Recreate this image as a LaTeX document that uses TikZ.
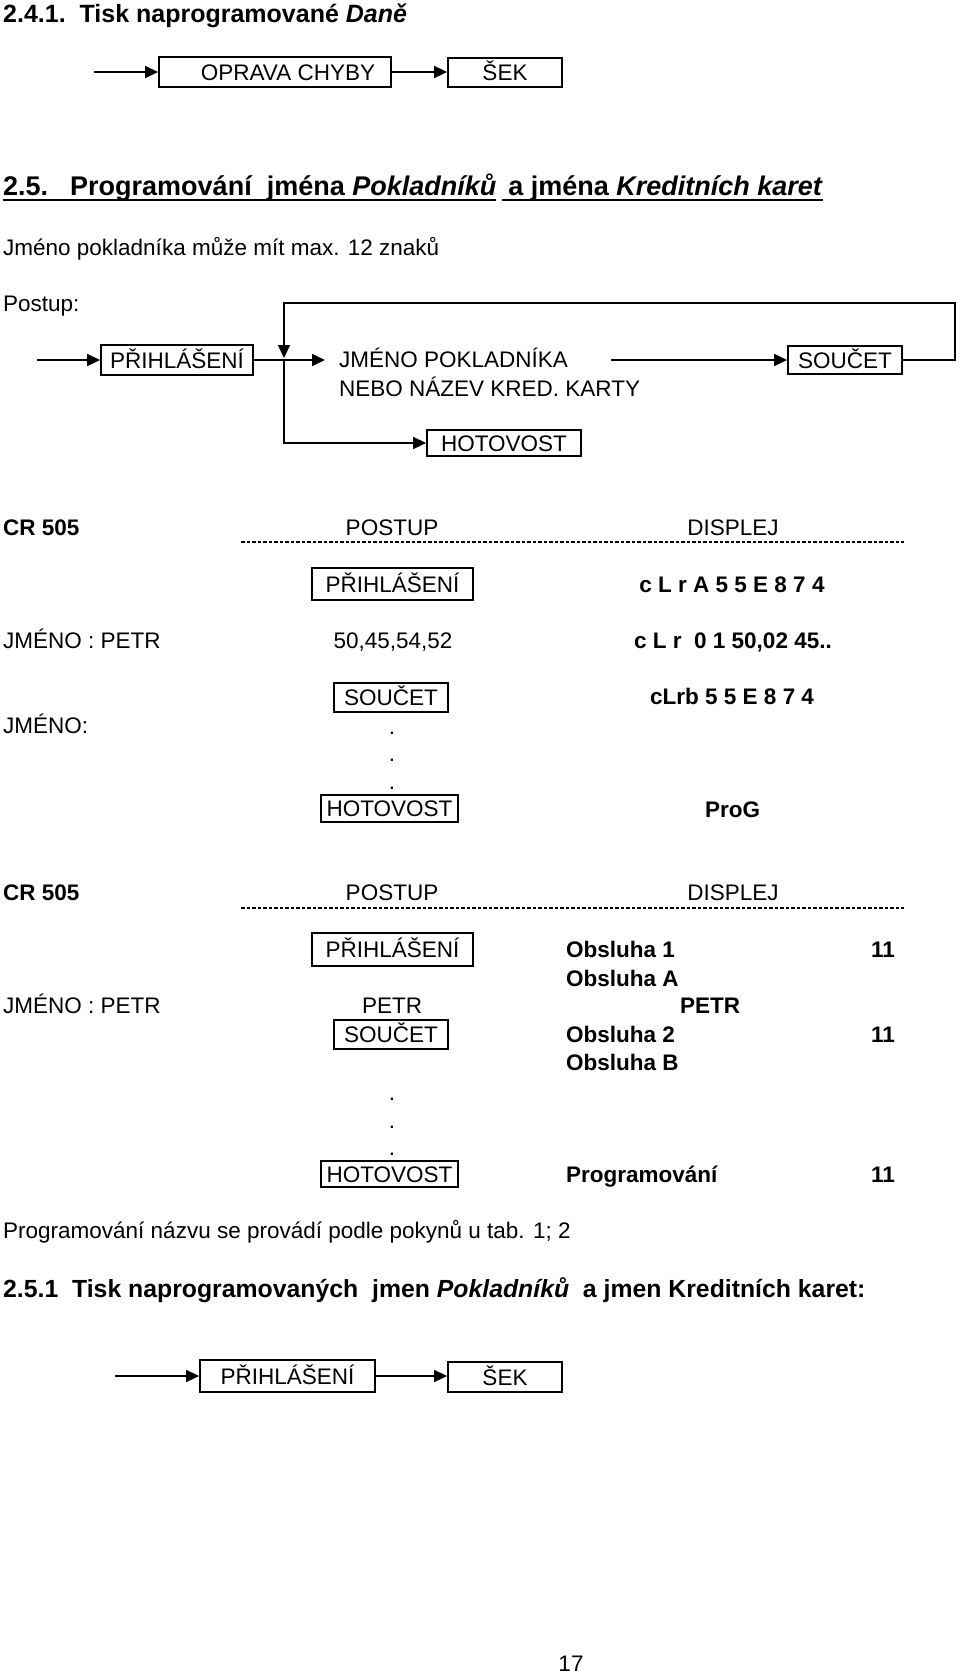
\documentclass[tikz,border=0pt]{standalone}
\usepackage{fontspec}
\setmainfont{Liberation Sans}
\usetikzlibrary{arrows.meta}
\newcommand\myul[1]{\setbox0\hbox{#1}\rlap{\rule[-5.5pt]{\wd0}{1.6pt}}\box0}
\tikzset{
  body/.style={font=\fontsize{22.5}{27}\selectfont, inner sep=0pt},
  bbody/.style={font=\fontsize{22.5}{27}\selectfont\bfseries, inner sep=0pt},
  ttl/.style={font=\fontsize{25}{30}\selectfont\bfseries, inner sep=0pt, anchor=base west},
  keybox/.style={draw, line width=1.8pt, inner sep=0pt, font=\fontsize{22.5}{27}\selectfont,
    text height=16pt, text depth=0pt},
  arr/.style={line width=1.6pt, -{Triangle[length=13pt,width=12pt]}},
  ln/.style={line width=1.6pt},
  dsh/.style={line width=1.3pt, dash pattern=on 3.5pt off 2pt}
}
\begin{document}
\begin{tikzpicture}[x=1pt,y=-1pt]
\useasboundingbox (0,0) rectangle (960,1674);

% ---- 2.4.1
\node[ttl] (t241) at (3,22) {2.4.1.\ \ Tisk naprogramované \textit{Daně}};
\coordinate (s1) at (94,72);
\node[keybox, minimum width=232pt, minimum height=30pt] (opr) at (275,72) {\hspace*{26pt}OPRAVA CHYBY};
\node[keybox, minimum width=114pt, minimum height=29pt] (sek1) at (505,72.5) {ŠEK};
\draw[arr] (s1) -- (opr.west);
\draw[arr] (opr.east) -- (sek1.west |- opr.east);

% ---- 2.5
\node[ttl, font=\fontsize{27}{30}\selectfont\bfseries] (h25) at (3,195)
  {\myul{2.5.\hspace{22pt}Programování\ \ jména \textit{Pokladníků}}\hspace{6pt}\myul{\hspace{6pt}a jména \textit{Kreditních karet}}};
\node[body, anchor=base west] (info) at (3,255) {Jméno pokladníka může mít max. 12 znaků};
\node[body, anchor=base west] (postup) at (3,311) {Postup:};

\coordinate (s2) at (37,360);
\node[keybox, minimum width=152pt, minimum height=30pt] (prih1) at (177,360) {PŘIHLÁŠENÍ};
\coordinate (j) at (284,360);
\node[body, anchor=base west, inner xsep=14pt] (jm1) at (325,367) {JMÉNO POKLADNÍKA};
\node[body, anchor=base west] (jm2) at (339,396) {NEBO NÁZEV KRED. KARTY};
\coordinate (jmr) at (611,360);
\node[keybox, minimum width=114pt, minimum height=28pt] (souc1) at (845,360) {SOUČET};
\node[keybox, minimum width=154pt, minimum height=26pt] (hot1) at (504,443) {HOTOVOST};
\coordinate (loopr) at (955,303);
\coordinate (loopl) at (284,303);

\draw[arr] (s2) -- (prih1.west);
\draw[ln] (prih1.east) -- (j);
\draw[arr] (j) -- (prih1.east -| jm1.west);
\draw[arr] (jmr) -- (souc1.west);
\draw[arr, shorten >=2pt] (souc1.east) -- (loopr |- souc1.east) -- (loopr) -- (loopl) -- (j);
\draw[arr] (j) -- (j |- hot1.west) -- (hot1.west);

% ---- table 1
\node[bbody, anchor=base west] (cr1) at (3,535) {CR 505};
\node[body, anchor=base] (pst1) at (392,535) {POSTUP};
\node[body, anchor=base] (dsp1) at (733,535) {DISPLEJ};
\coordinate (d1a) at (241,542);
\coordinate (d1b) at (904,542);
\draw[dsh] (d1a) -- (d1b);

\node[keybox, minimum width=161pt, minimum height=32pt] (prih2) at (392.5,584) {PŘIHLÁŠENÍ};
\node[bbody, anchor=base] (dA) at (732,592) {c L r A 5 5 E 8 7 4};
\node[body, anchor=base west] (jp1) at (3,648) {JMÉNO : PETR};
\node[body, anchor=base] (cod) at (393,648) {50,45,54,52};
\node[bbody, anchor=base west] (dB) at (634,648) {c L r\ \ 0 1 50,02 45..};
\node[keybox, minimum width=114pt, minimum height=29pt] (souc2) at (391,697.5) {SOUČET};
\node[bbody, anchor=base west] (dC) at (650,704) {cLrb 5 5 E 8 7 4};
\node[body, anchor=base west] (jn) at (3,733) {JMÉNO:};
\node[body, anchor=base] (p1) at (392,734) {.};
\node[body, anchor=base] (p2) at (392,761) {.};
\node[body, anchor=base] (p3) at (392,789) {.};
\node[keybox, minimum width=137pt, minimum height=27pt] (hot2) at (389.5,808.5) {HOTOVOST};
\node[bbody, anchor=base west] (dD) at (705,817) {ProG};

% ---- table 2
\node[bbody, anchor=base west] (cr2) at (3,900) {CR 505};
\node[body, anchor=base] (pst2) at (392,900) {POSTUP};
\node[body, anchor=base] (dsp2) at (733,900) {DISPLEJ};
\coordinate (d2a) at (241,908);
\coordinate (d2b) at (904,908);
\draw[dsh] (d2a) -- (d2b);

\node[keybox, minimum width=161pt, minimum height=33pt] (prih3) at (392.5,949.5) {PŘIHLÁŠENÍ};
\node[bbody, anchor=base west] (o1) at (566,957) {Obsluha 1};
\node[bbody, anchor=base east] (n1) at (895,957) {11};
\node[bbody, anchor=base west] (oA) at (566,986) {Obsluha A};
\node[body, anchor=base west] (jp2) at (3,1013) {JMÉNO : PETR};
\node[body, anchor=base] (petr) at (392,1013) {PETR};
\node[bbody, anchor=base] (petrb) at (710,1013) {PETR};
\node[keybox, minimum width=114pt, minimum height=29pt] (souc3) at (391,1034.5) {SOUČET};
\node[bbody, anchor=base west] (o2) at (566,1042) {Obsluha 2};
\node[bbody, anchor=base east] (n2) at (895,1042) {11};
\node[bbody, anchor=base west] (oB) at (566,1070) {Obsluha B};
\node[body, anchor=base] (q1) at (392,1100) {.};
\node[body, anchor=base] (q2) at (392,1128) {.};
\node[body, anchor=base] (q3) at (392,1155) {.};
\node[keybox, minimum width=137pt, minimum height=26pt] (hot3) at (389.5,1174) {HOTOVOST};
\node[bbody, anchor=base west] (prg) at (566,1182) {Programování};
\node[bbody, anchor=base east] (n3) at (895,1182) {11};

% ---- bottom
\node[body, anchor=base west] (note) at (3,1238) {Programování názvu se provádí podle pokynů u tab. 1; 2};
\node[ttl, font=\fontsize{24.8}{30}\selectfont\bfseries] (h251) at (3,1297) {2.5.1\ \ Tisk naprogramovaných\ \ jmen \textit{Pokladníků}\ \ a jmen Kreditních karet:};
\coordinate (s3) at (115,1376);
\node[keybox, minimum width=175pt, minimum height=32pt] (prih4) at (287.5,1376) {PŘIHLÁŠENÍ};
\node[keybox, minimum width=114pt, minimum height=30pt] (sek4) at (505,1377) {ŠEK};
\draw[arr] (s3) -- (prih4.west);
\draw[arr] (prih4.east) -- (sek4.west |- prih4.east);

\node[body, anchor=base] (pg) at (571,1671) {17};
\end{tikzpicture}
\end{document}
